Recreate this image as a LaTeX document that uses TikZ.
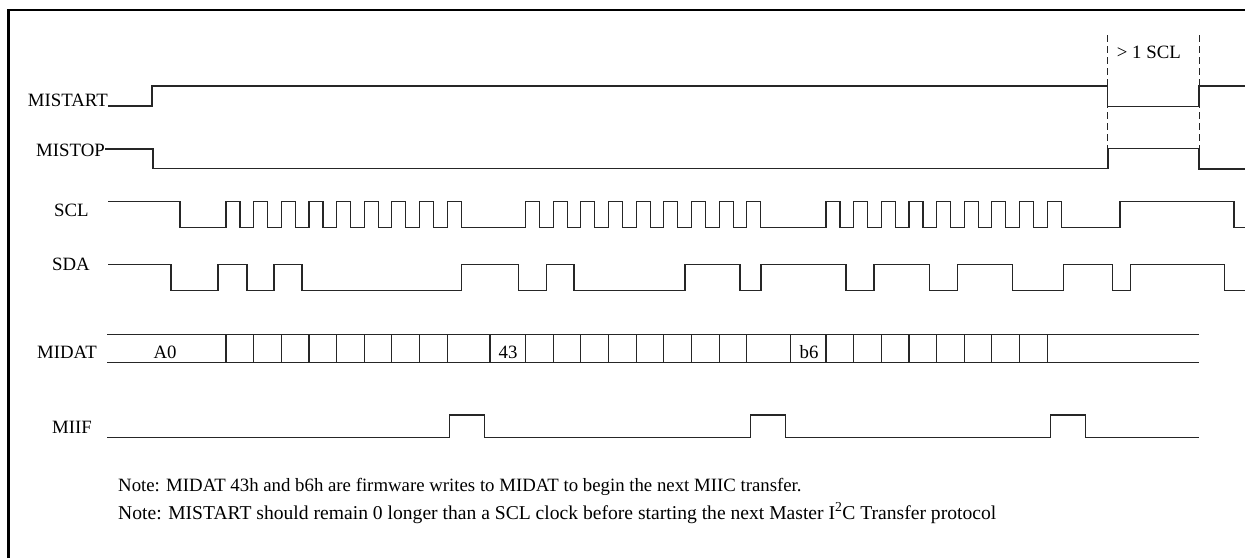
\documentclass[tikz,border=0pt]{standalone}
\usepackage{fontspec}
\setmainfont{Liberation Serif}
\begin{document}
\begin{tikzpicture}[x=1pt,y=-1pt,
  wave/.style={line width=1.1pt, black!85, line join=miter},
  dashline/.style={line width=0.9pt, black!85, dash pattern=on 7pt off 4pt},
  lbl/.style={inner sep=0pt, font=\fontsize{18.8}{22}\selectfont}]
\useasboundingbox (0,0) rectangle (1245,558);
\fill[white] (0,0) rectangle (1245,558);
% frame
\draw[line width=2.5pt] (8.7,558) -- (8.7,10.2) -- (1245,10.2);
% labels
\node[lbl, anchor=base east] (lstart) at (108,106.5) {MISTART};
\node[lbl, anchor=base east] (lstop) at (105,156) {MISTOP};
\node[lbl, anchor=base west] (lscl) at (54,216.5) {SCL};
\node[lbl, anchor=base west] (lsda) at (52,270.5) {SDA};
\node[lbl, anchor=base west] (ldat) at (37,358.3) {MIDAT};
\node[lbl, anchor=base west] (liif) at (52,433.3) {MIIF};
\node[lbl, anchor=base] (vA0) at (165,358.3) {A0};
\node[lbl, anchor=base] (v43) at (508,358.3) {43};
\node[lbl, anchor=base] (vb6) at (809,358.3) {b6};
\node[lbl, anchor=base west] (lgap) at (1116.7,58) {> 1 SCL};
% MISTART
\draw[wave] (108,106) -- (152,106) -- (152,86) -- (1107.5,86) -- (1107.5,106.5) -- (1199,106.5) -- (1199,86) -- (1245,86);
% MISTOP
\draw[wave] (105,149) -- (153,149) -- (153,168.5) -- (1108,168.5) -- (1108,148.5) -- (1199,148.5) -- (1199,169) -- (1245,169);
% dashed markers
\draw[dashline] (1107.5,35) -- (1107.5,148.5);
\draw[dashline] (1199,35) -- (1199,148.5);
% SCL
\draw[wave] (108,201.7) -- (180,201.7) -- (180,227.7)
  \foreach \s in {226,525.5,826}{ \foreach \k in {0,...,8}{ -- ({\s+\k*27.65},227.7) -- ++(0,-26) -- ++(14,0) -- ++(0,26) } }
  -- (1120,227.7) -- (1120,201.7) -- (1234,201.7) -- (1234,227.7) -- (1245,227.7);
% SDA
\draw[wave] (108,264.5) -- (171,264.5) -- (171,290.5) -- (218,290.5) -- (218,264.5) -- (247,264.5) -- (247,290.5) -- (274,290.5) -- (274,264.5) -- (302,264.5) -- (302,290.5) -- (461.7,290.5) -- (461.7,264.5) -- (518.3,264.5) -- (518.3,290.5) -- (546.7,290.5) -- (546.7,264.5) -- (574,264.5) -- (574,290.5) -- (685,290.5) -- (685,264.5) -- (740,264.5) -- (740,290.5) -- (761,290.5) -- (761,264.5) -- (846,264.5) -- (846,290.5) -- (874,290.5) -- (874,264.5) -- (929.3,264.5) -- (929.3,290.5) -- (957.3,290.5) -- (957.3,264.5) -- (1012.3,264.5) -- (1012.3,290.5) -- (1063.3,290.5) -- (1063.3,264.5) -- (1112.3,264.5) -- (1112.3,290.5) -- (1130.7,290.5) -- (1130.7,264.5) -- (1224.3,264.5) -- (1224.3,290.5) -- (1245,290.5);
% MIDAT bus
\draw[wave] (107,334.3) -- (1199,334.3);
\draw[wave] (107,362.3) -- (1199,362.3);
\foreach \s in {226,525.5,826}{
  \foreach \k in {0,...,8}{ \draw[wave] ({\s+\k*27.65},334.3) -- ({\s+\k*27.65},362.3); } }
\draw[wave] (490,334.3) -- (490,362.3);
\draw[wave] (790.7,334.3) -- (790.7,362.3);
% MIIF
\draw[wave] (107,437.3) -- (449.3,437.3) -- (449.3,415) -- (484.3,415) -- (484.3,437.3)
  -- (750.6,437.3) -- ++(0,-22.3) -- ++(35,0) -- ++(0,22.3)
  -- (1050.6,437.3) -- ++(0,-22.3) -- ++(35,0) -- ++(0,22.3) -- (1199,437.3);
% notes
\node[lbl, anchor=base west] (note1) at (118,491) {Note: MIDAT 43h and b6h are firmware writes to MIDAT to begin the next MIIC transfer.};
\node[lbl, anchor=base west, font=\fontsize{19.6}{22}\selectfont] (note2) at (118,519) {Note: MISTART should remain 0 longer than a SCL clock before starting the next Master I\textsuperscript{2}C Transfer protocol};
\end{tikzpicture}
\end{document}
